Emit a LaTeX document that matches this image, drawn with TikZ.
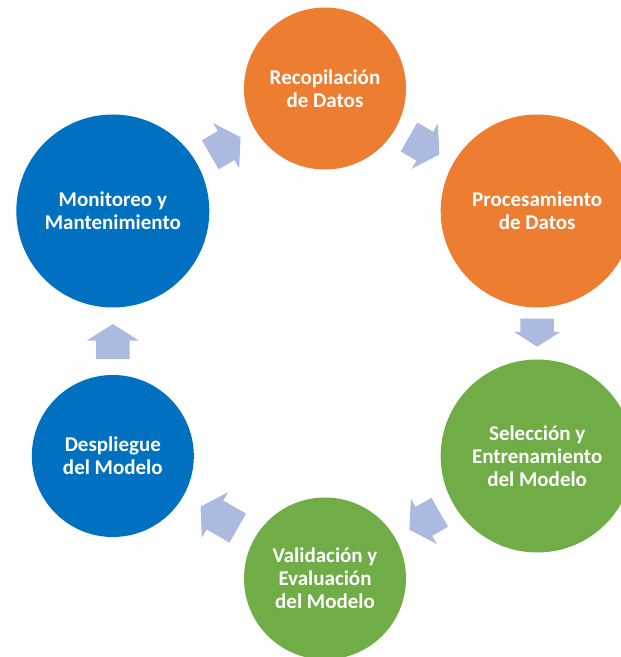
\documentclass[tikz,border=0pt]{standalone}
\usepackage{fontspec}
\setmainfont{Carlito}
\usepackage{tikz}
\usetikzlibrary{shapes.arrows,calc,positioning}
\definecolor{orangeD}{HTML}{ED7D31}
\definecolor{greenD}{HTML}{70AD47}
\definecolor{blueD}{HTML}{0070C0}
\definecolor{arrowD}{HTML}{ADBADF}

\tikzset{
  phase/.style={circle, inner sep=0pt, align=center, text=white,
    font=\bfseries\fontsize{21}{23}\selectfont},
  small/.style={phase, minimum size=162pt},
  big/.style={phase, minimum size=193pt},
  cyclearrow/.style={single arrow, fill=arrowD, inner xsep=0pt,
    inner ysep=16.5pt, single arrow head extend=9.5pt,
    single arrow tip angle=115, anchor=tip}
}

\begin{document}
\begin{tikzpicture}[x=1pt, y=1pt]

\def\R{245}
\useasboundingbox (0,0) rectangle (621,657);

% Kreise im Sechseck
\begin{scope}[shift={(325,323.5)}]
\node[small, fill=orangeD] (rec) at (90:\R)  {Recopilación\\de Datos};
\node[big,   fill=orangeD] (pro) at (30:\R)  {Procesamiento\\de Datos};
\node[big,   fill=greenD]  (sel) at (-30:\R) {Selección y\\Entrenamiento\\del Modelo};
\node[small, fill=greenD]  (val) at (-90:\R) {Validación y\\Evaluación\\del Modelo};
\node[small, fill=blueD]   (dep) at (210:\R) {Despliegue\\del Modelo};
\node[big,   fill=blueD]   (mon) at (150:\R) {Monitoreo y\\Mantenimiento};
\end{scope}

% Pfeile zwischen den Kreisen
\node[cyclearrow, minimum height=35pt, rotate=30]  (a1) at ($(mon.30)!0.76!(rec.210)$) {};
\node[cyclearrow, minimum height=35pt, rotate=-30] (a2) at ($(rec.-30)!0.76!(pro.150)$) {};
\node[cyclearrow, minimum height=28pt, single arrow head extend=6.7pt, rotate=-90] (a3) at ($(pro.-90)!0.76!(sel.90)$) {};
\node[cyclearrow, minimum height=35pt, rotate=210] (a4) at ($(sel.210)!0.76!(val.30)$) {};
\node[cyclearrow, minimum height=43pt, rotate=150] (a5) at ($(val.150)!0.76!(dep.-30)$) {};
\node[cyclearrow, minimum height=35pt, rotate=90]  (a6) at ($(dep.90)!0.76!(mon.-90)$) {};

\end{tikzpicture}
\end{document}
